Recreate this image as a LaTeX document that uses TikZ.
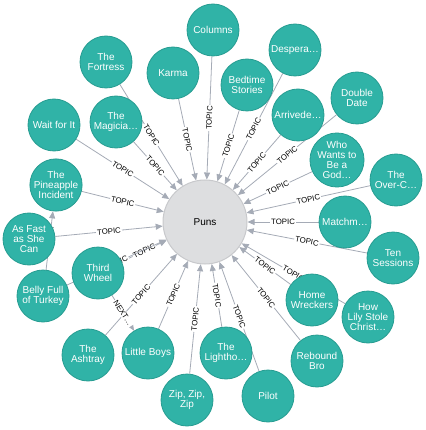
\documentclass[tikz,border=0pt]{standalone}
\usepackage{fontspec}
\setmainfont{Liberation Sans}
\usetikzlibrary{arrows.meta,backgrounds}
\definecolor{episode}{RGB}{48,179,167}
\definecolor{episodeline}{RGB}{38,156,145}
\definecolor{topicfill}{RGB}{221,222,224}
\definecolor{topicline}{RGB}{200,201,204}
\definecolor{relgray}{RGB}{165,171,182}
\tikzset{
  ep/.style={circle, fill=episode, draw=episodeline, line width=0.8pt,
    minimum size=52pt, inner sep=0pt, text=white, align=center,
    font=\fontsize{10}{10}\selectfont},
  topicnode/.style={circle, fill=topicfill, draw=topicline, line width=1pt,
    minimum size=84pt, inner sep=0pt, font=\fontsize{10}{10}\selectfont},
  rel/.style={draw=relgray, line width=0.8pt, -{Triangle[length=7pt,width=6pt]}},
  lbl/.style={sloped, midway, fill=white, inner sep=1pt, text=black,
    font=\fontsize{7.8}{8}\selectfont}
}
\begin{document}
\begin{tikzpicture}[x=1pt, y=-1pt]
  \useasboundingbox (0,0) rectangle (425,430);
  % central topic
  \node[topicnode] (puns) at (205,222) {Puns};
  % episodes, clockwise from the top
  \node[ep] (columns) at (213,30) {Columns};
  \node[ep] (desperation) at (295,50) {Despera…};
  \node[ep] (bedtime) at (247,85) {Bedtime\\Stories};
  \node[ep] (doubledate) at (357,98) {Double\\Date};
  \node[ep] (arrivederci) at (298,115) {Arrivede…};
  \node[ep] (godparent) at (337,160) {Who\\Wants to\\Be a\\God…};
  \node[ep] (overc) at (396,180) {The\\Over-C…};
  \node[ep] (matchmaker) at (345,222) {Matchm…};
  \node[ep] (tensessions) at (393,258) {Ten\\Sessions};
  \node[ep] (homewreckers) at (312,300) {Home\\Wreckers};
  \node[ep] (lily) at (368,317) {How\\Lily Stole\\Christ…};
  \node[ep] (rebound) at (317,361) {Rebound\\Bro};
  \node[ep] (pilot) at (268,396) {Pilot};
  \node[ep] (lighthouse) at (226,353) {The\\Lightho…};
  \node[ep] (zip) at (187,400) {Zip, Zip,\\Zip};
  \node[ep] (littleboys) at (148,353) {Little Boys};
  \node[ep] (ashtray) at (88,355) {The\\Ashtray};
  \node[ep] (thirdwheel) at (98,273) {Third\\Wheel};
  \node[ep] (belly) at (43,296) {Belly Full\\of Turkey};
  \node[ep] (asfast) at (29,239) {As Fast\\as She\\Can};
  \node[ep] (pineapple) at (56,185) {The\\Pineapple\\Incident};
  \node[ep] (waitforit) at (54,125) {Wait for It};
  \node[ep] (magician) at (116,122) {The\\Magicia…};
  \node[ep] (fortress) at (106,62) {The\\Fortress};
  \node[ep] (karma) at (173,73) {Karma};
  % relationships under the nodes
  \begin{scope}[on background layer]
    \foreach \ep in {columns, desperation, bedtime, doubledate, arrivederci,
      godparent, overc, matchmaker, tensessions, homewreckers, lily, rebound,
      pilot, lighthouse, zip, littleboys, ashtray, thirdwheel, belly, asfast,
      pineapple, waitforit, magician, fortress, karma}
      \draw[rel] (\ep) -- node[lbl] {TOPIC} (puns);
    \draw[rel] (belly) -- node[lbl] {NEXT…} (pineapple);
    \draw[rel] (thirdwheel) -- node[lbl] {NEXT…} (littleboys);
  \end{scope}
\end{tikzpicture}
\end{document}
